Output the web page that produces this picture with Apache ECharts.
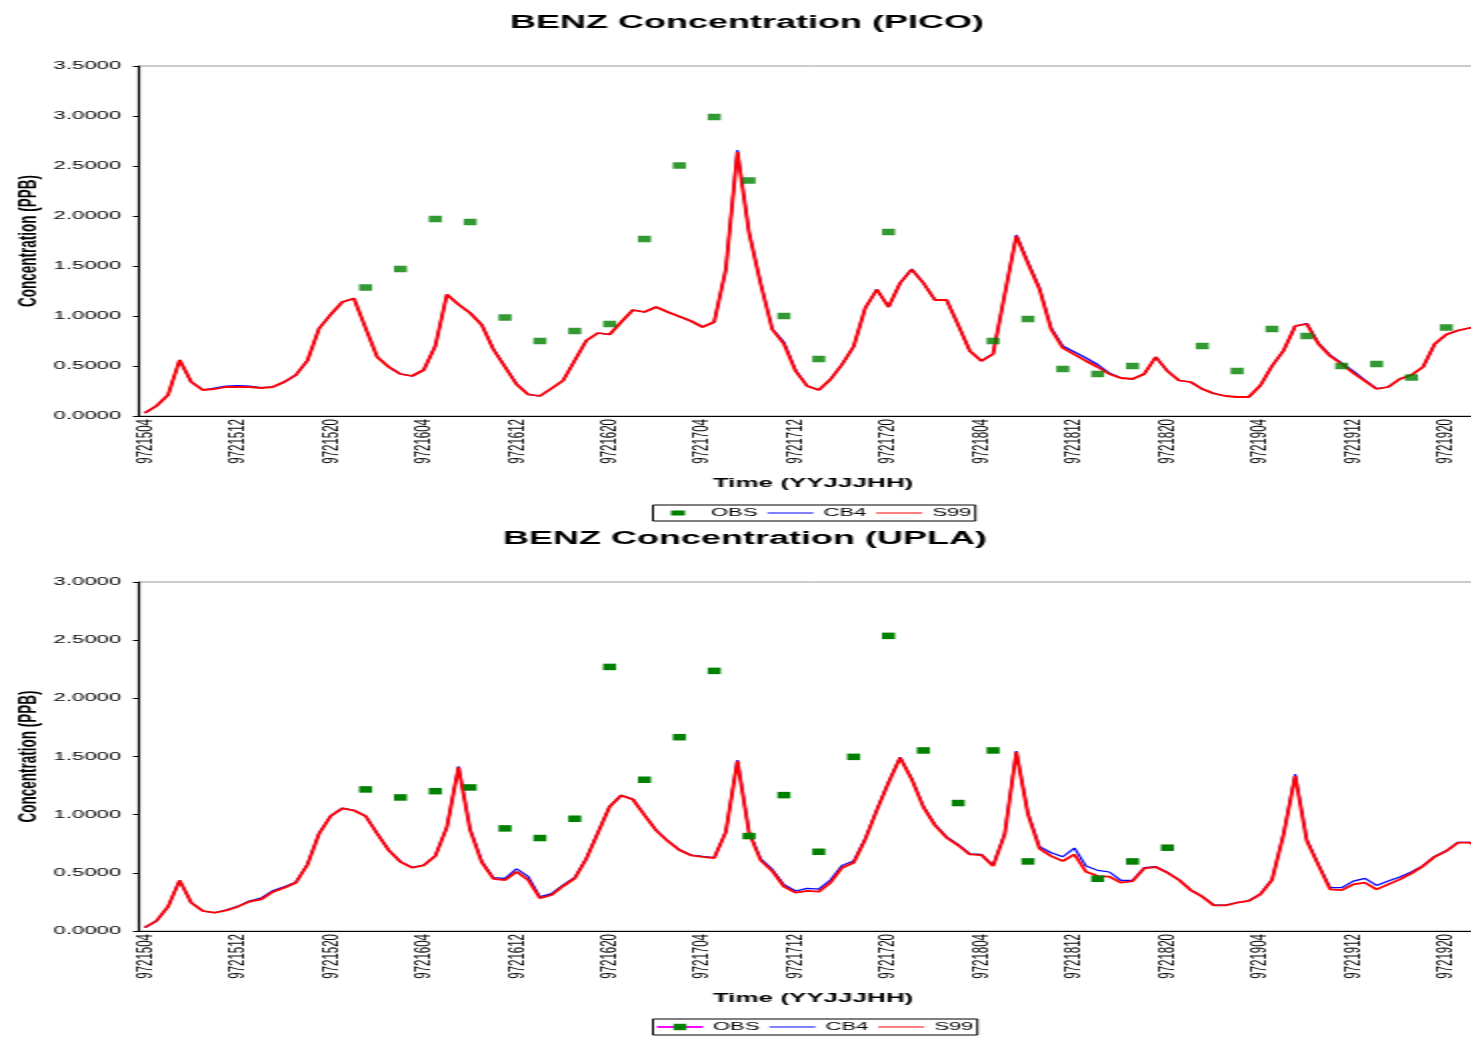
<!DOCTYPE html>
<html>
<head>
<meta charset="utf-8">
<title>BENZ Concentration</title>
<script src="https://cdn.jsdelivr.net/npm/echarts@6/dist/echarts.min.js"></script>
<style>
  html, body { margin: 0; padding: 0; background: #fff; overflow: hidden; }
  /* 原图横向拉伸约 2 倍：半宽画布 + scaleX(2) */
  #chart { width: 744px; height: 1037px; transform: scaleX(2); transform-origin: 0 0; }
</style>
</head>
<body>
<div id="chart"></div>
<script>
const _ = null;

// 时间轴 (YYJJJHH)
const categories = [
  '9721504','9721505','9721506','9721507','9721508','9721509','9721510','9721511','9721512','9721513',
  '9721514','9721515','9721516','9721517','9721518','9721519','9721520','9721521','9721522','9721523',
  '9721600','9721601','9721602','9721603','9721604','9721605','9721606','9721607','9721608','9721609',
  '9721610','9721611','9721612','9721613','9721614','9721615','9721616','9721617','9721618','9721619',
  '9721620','9721621','9721622','9721623','9721700','9721701','9721702','9721703','9721704','9721705',
  '9721706','9721707','9721708','9721709','9721710','9721711','9721712','9721713','9721714','9721715',
  '9721716','9721717','9721718','9721719','9721720','9721721','9721722','9721723','9721800','9721801',
  '9721802','9721803','9721804','9721805','9721806','9721807','9721808','9721809','9721810','9721811',
  '9721812','9721813','9721814','9721815','9721816','9721817','9721818','9721819','9721820','9721821',
  '9721822','9721823','9721900','9721901','9721902','9721903','9721904','9721905','9721906','9721907',
  '9721908','9721909','9721910','9721911','9721912','9721913','9721914','9721915','9721916','9721917',
  '9721918','9721919','9721920','9721921','9721922','9721923'
];

// PICO 站
const picoObs = [
  _,_,_,_,_,_,_,_,_,_,
  _,_,_,_,_,_,_,_,_,1.285,
  _,_,1.47,_,_,1.97,_,_,1.94,_,
  _,0.985,_,_,0.75,_,_,0.85,_,_,
  0.92,_,_,1.77,_,_,2.505,_,_,2.99,
  _,_,2.355,_,_,1.00,_,_,0.57,_,
  _,_,_,_,1.84,_,_,_,_,_,
  _,_,_,0.75,_,_,0.97,_,_,0.47,
  _,_,0.42,_,_,0.50,_,_,_,_,
  _,0.70,_,_,0.45,_,_,0.87,_,_,
  0.80,_,_,0.50,_,_,0.52,_,_,0.385,
  _,_,0.885,_,_,_
];
const picoCb4 = [
  0.03,0.10,0.21,0.56,0.34,0.26,0.28,0.30,0.305,0.30,
  0.285,0.29,0.34,0.41,0.555,0.875,1.015,1.14,1.175,0.88,
  0.59,0.49,0.42,0.40,0.46,0.70,1.215,1.115,1.03,0.915,
  0.67,0.495,0.32,0.215,0.20,0.275,0.355,0.555,0.755,0.83,
  0.815,0.94,1.06,1.04,1.09,1.04,0.995,0.95,0.89,0.94,
  1.465,2.66,1.84,1.33,0.87,0.74,0.46,0.30,0.26,0.365,
  0.515,0.695,1.08,1.265,1.09,1.33,1.47,1.33,1.16,1.16,
  0.91,0.65,0.55,0.62,1.215,1.81,1.54,1.28,0.88,0.70,
  0.64,0.58,0.515,0.43,0.38,0.37,0.42,0.59,0.45,0.355,
  0.34,0.27,0.225,0.20,0.19,0.19,0.305,0.50,0.655,0.90,
  0.925,0.73,0.61,0.53,0.45,0.36,0.275,0.29,0.37,0.41,
  0.49,0.72,0.815,0.855,0.88,0.90
];
const picoS99 = [
  0.03,0.10,0.21,0.56,0.34,0.26,0.27,0.29,0.29,0.29,
  0.28,0.29,0.34,0.41,0.555,0.875,1.015,1.14,1.175,0.88,
  0.59,0.49,0.42,0.40,0.46,0.70,1.215,1.115,1.03,0.91,
  0.665,0.49,0.315,0.215,0.20,0.275,0.355,0.555,0.755,0.83,
  0.815,0.94,1.06,1.04,1.09,1.04,0.995,0.95,0.89,0.94,
  1.465,2.64,1.83,1.32,0.865,0.72,0.45,0.30,0.26,0.365,
  0.515,0.695,1.08,1.265,1.09,1.33,1.465,1.33,1.16,1.16,
  0.91,0.65,0.55,0.62,1.215,1.80,1.525,1.265,0.865,0.68,
  0.615,0.55,0.49,0.42,0.38,0.37,0.42,0.59,0.45,0.355,
  0.34,0.27,0.225,0.20,0.19,0.19,0.305,0.50,0.655,0.90,
  0.92,0.72,0.60,0.52,0.43,0.35,0.27,0.29,0.37,0.41,
  0.49,0.72,0.815,0.855,0.88,0.90
];

// UPLA 站
const uplaObs = [
  _,_,_,_,_,_,_,_,_,_,
  _,_,_,_,_,_,_,_,_,1.217,
  _,_,1.148,_,_,1.202,_,_,1.234,_,
  _,0.882,_,_,0.799,_,_,0.965,_,_,
  2.27,_,_,1.30,_,_,1.666,_,_,2.236,
  _,_,0.816,_,_,1.168,_,_,0.681,_,
  _,1.497,_,_,2.537,_,_,1.552,_,_,
  1.10,_,_,1.552,_,_,0.598,_,_,_,
  _,_,0.449,_,_,0.598,_,_,0.716,_,
  _,_,_,_,_,_,_,_,_,_,
  _,_,_,_,_,_,_,_,_,_,
  _,_,_,_,_,_
];
const uplaCb4 = [
  0.03,0.086,0.209,0.435,0.243,0.172,0.157,0.18,0.212,0.258,
  0.283,0.346,0.381,0.42,0.575,0.84,0.99,1.056,1.038,0.99,
  0.84,0.695,0.597,0.546,0.566,0.646,0.895,1.415,0.875,0.60,
  0.458,0.452,0.535,0.467,0.295,0.321,0.395,0.461,0.627,0.85,
  1.072,1.168,1.134,0.998,0.868,0.776,0.699,0.653,0.641,0.63,
  0.855,1.469,0.852,0.621,0.53,0.398,0.344,0.366,0.36,0.438,
  0.564,0.601,0.795,1.045,1.28,1.495,1.31,1.072,0.915,0.81,
  0.742,0.664,0.658,0.565,0.838,1.546,1.015,0.724,0.673,0.638,
  0.713,0.558,0.521,0.507,0.435,0.435,0.544,0.553,0.503,0.44,
  0.354,0.297,0.222,0.222,0.245,0.26,0.318,0.442,0.838,1.348,
  0.785,0.573,0.372,0.372,0.429,0.452,0.392,0.429,0.464,0.507,
  0.562,0.642,0.69,0.762,0.762,0.73
];
const uplaS99 = [
  0.03,0.086,0.209,0.435,0.243,0.172,0.157,0.177,0.209,0.252,
  0.272,0.335,0.372,0.415,0.57,0.836,0.988,1.054,1.036,0.988,
  0.836,0.693,0.595,0.544,0.564,0.644,0.893,1.406,0.867,0.59,
  0.449,0.438,0.51,0.438,0.281,0.309,0.386,0.452,0.621,0.845,
  1.068,1.165,1.131,0.996,0.865,0.773,0.696,0.65,0.638,0.627,
  0.85,1.46,0.845,0.607,0.515,0.381,0.329,0.344,0.338,0.415,
  0.544,0.587,0.787,1.039,1.274,1.489,1.303,1.065,0.908,0.802,
  0.736,0.658,0.653,0.558,0.83,1.537,1.002,0.707,0.644,0.601,
  0.658,0.51,0.472,0.467,0.415,0.429,0.538,0.55,0.501,0.438,
  0.352,0.295,0.22,0.22,0.243,0.258,0.315,0.438,0.83,1.331,
  0.773,0.564,0.358,0.352,0.401,0.415,0.358,0.401,0.444,0.495,
  0.558,0.638,0.687,0.759,0.759,0.72
];

const titles = ['BENZ Concentration (PICO)', 'BENZ Concentration (UPLA)'];
const yMax = [3.5, 3.0];

const FONT = "'Liberation Sans', Arial, sans-serif";
// 图例图标：前后用空的 moveTo 撑出宽度，方块居中
const LINE_ICON = 'path://M0,0h23v1h-23z';
const OBS_ICON = 'path://M0,0M23,5M8,0h7v5h-7z';
const GREEN = '#008000', BLUE = '#0000ff', RED = '#ff0000', MAGENTA = '#ff00ff';

/**
 * 生成坐标轴
 */
function makeXAxis(gridIndex) {
  return {
    type: 'category',
    gridIndex: gridIndex,
    data: categories,
    boundaryGap: true,
    name: 'Time (YYJJJHH)',
    nameLocation: 'middle',
    nameGap: 61,
    nameTextStyle: { fontFamily: FONT, fontSize: 13, fontWeight: 'bold', color: '#000' },
    axisLine: { lineStyle: { color: '#000', width: 1.2 } },
    axisTick: { interval: 0, length: 3, lineStyle: { color: '#000' } },
    axisLabel: { interval: 7, rotate: 90, margin: 3, fontFamily: FONT, fontSize: 11.5, color: '#000' }
  };
}

function makeYAxis(gridIndex) {
  return {
    type: 'value',
    gridIndex: gridIndex,
    min: 0,
    max: yMax[gridIndex],
    interval: 0.5,
    name: 'Concentration (PPB)',
    nameLocation: 'middle',
    nameRotate: 90,
    nameGap: 48.5,
    nameMoveOverlap: false,
    nameTextStyle: { fontFamily: FONT, fontSize: 13.5, fontWeight: 'bold', color: '#000' },
    axisLine: { show: true, lineStyle: { color: '#000', width: 1.2 } },
    axisTick: { show: true, length: 3, lineStyle: { color: '#000' } },
    axisLabel: { margin: 9, fontFamily: FONT, fontSize: 11, color: '#000', formatter: v => v.toFixed(4) },
    splitLine: { show: false }
  };
}

function modelLine(name, color, width, data, idx) {
  return {
    name: name,
    type: 'line',
    xAxisIndex: idx,
    yAxisIndex: idx,
    data: data,
    color: color,
    symbol: 'none',
    lineStyle: { color: color, width: width },
    emphasis: { disabled: true }
  };
}

function makeLegend(top, obsItem, itemHeight) {
  return {
    left: 326.5, top: top,
    data: [
      obsItem,
      { name: 'CB4', icon: LINE_ICON, itemStyle: { color: BLUE } },
      { name: 'S99', icon: LINE_ICON, itemStyle: { color: RED } }
    ],
    itemWidth: 23, itemHeight: itemHeight, itemGap: 5,
    padding: [2.5, 2, 2.5, 1],
    borderColor: '#000', borderWidth: 1,
    textStyle: { fontFamily: FONT, fontSize: 11, color: '#000' },
    selectedMode: false
  };
}

const chart = echarts.init(document.getElementById('chart'));

const option = {
  animation: false,
  backgroundColor: '#fff',
  title: [
    { text: titles[0], left: 368.5, top: 9, textAlign: 'center',
      textStyle: { fontFamily: FONT, fontSize: 18, fontWeight: 'bold', color: '#000' } },
    { text: titles[1], left: 367.5, top: 525, textAlign: 'center',
      textStyle: { fontFamily: FONT, fontSize: 18, fontWeight: 'bold', color: '#000' } }
  ],
  legend: [
    makeLegend(505, { name: 'OBS', icon: OBS_ICON, itemStyle: { color: GREEN } }, 5),
    makeLegend(1019, 'OBS', 8)
  ],
  grid: [
    { left: 69.5, top: 66, width: 674, height: 350, show: true, borderColor: '#999', borderWidth: 1,
      outerBoundsMode: 'none' },
    { left: 69.5, top: 582, width: 674, height: 349, show: true, borderColor: '#999', borderWidth: 1,
      outerBoundsMode: 'none' }
  ],
  xAxis: [makeXAxis(0), makeXAxis(1)],
  yAxis: [makeYAxis(0), makeYAxis(1)],
  series: [
    // UPLA 观测 (图例为洋红线 + 绿色方块)
    {
      name: 'OBS', type: 'line', xAxisIndex: 1, yAxisIndex: 1, z: 3,
      data: uplaObs, symbol: 'rect', symbolSize: [6.5, 6.5],
      showSymbol: true, showAllSymbol: true, connectNulls: false,
      itemStyle: { color: GREEN },
      lineStyle: { color: MAGENTA, width: 1 },
      emphasis: { disabled: true }
    },
    // PICO 观测
    {
      name: 'OBS', type: 'scatter', xAxisIndex: 0, yAxisIndex: 0, z: 3,
      data: picoObs, symbol: 'rect', symbolSize: [6.5, 6.5],
      itemStyle: { color: GREEN },
      emphasis: { disabled: true }
    },
    modelLine('CB4', BLUE, 1.2, picoCb4, 0),
    modelLine('S99', RED, 1.8, picoS99, 0),
    modelLine('CB4', BLUE, 1.2, uplaCb4, 1),
    modelLine('S99', RED, 1.8, uplaS99, 1)
  ]
};

chart.setOption(option);
</script>
</body>
</html>
